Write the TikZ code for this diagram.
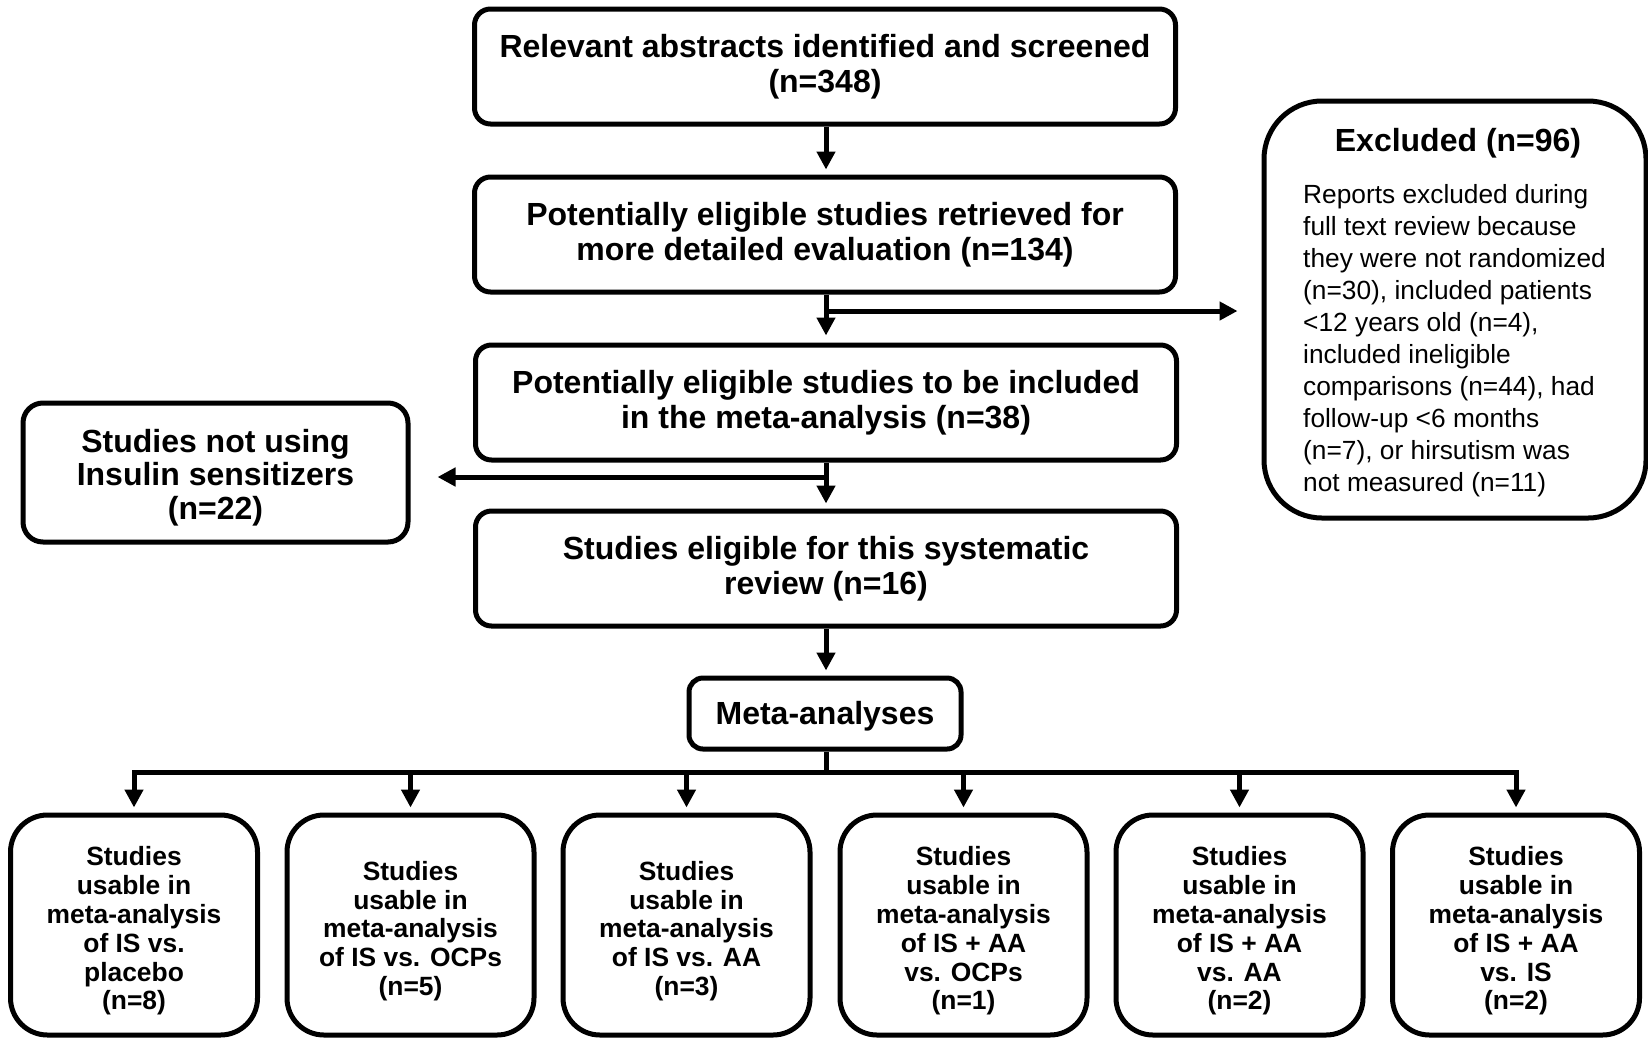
\documentclass[tikz,border=0pt]{standalone}
\usepackage{fontspec}
\setmainfont{Liberation Sans}
\usetikzlibrary{arrows.meta,calc}
\begin{document}
\begin{tikzpicture}[x=1pt,y=-1pt,
  boxline/.style={draw=black, line width=5pt, fill=white},
  mainbox/.style={boxline, rounded corners=16pt, minimum width=701pt, minimum height=115pt, align=center, font=\bfseries\fontsize{32}{35.5}\selectfont, inner sep=0pt},
  sidebox/.style={boxline, rounded corners=20pt, minimum width=385pt, minimum height=139pt, inner sep=0pt},
  sidetext/.style={align=center, font=\bfseries\fontsize{32}{33.6}\selectfont, inner sep=0pt},
  metabox/.style={boxline, rounded corners=14pt, minimum width=272pt, minimum height=71pt, inner sep=0pt},
  metatext/.style={font=\bfseries\fontsize{32}{35.5}\selectfont, inner sep=0pt},
  subbox/.style={boxline, rounded corners=37pt, minimum width=247pt, minimum height=220pt, inner sep=0pt},
  subtext/.style={align=center, font=\bfseries\fontsize{26.4}{28.8}\selectfont, inner sep=0pt},
  exclbox/.style={boxline, rounded corners=58pt, minimum width=382pt, minimum height=417pt, inner sep=0pt},
  conn/.style={line width=5pt, draw=black},
  arr/.style={conn, -{Triangle[length=18pt,width=18pt]}}
]
\useasboundingbox (0,0) rectangle (1648,1037);

\node[mainbox] (b1) at (825,66.5) {Relevant abstracts identified and screened\\(n=348)};
\node[mainbox] (b2) at (825,234.5) {Potentially eligible studies retrieved for\\more detailed evaluation (n=134)};
\node[mainbox] (b3) at (826,402.5) {Potentially eligible studies to be included\\in the meta-analysis (n=38)};
\node[mainbox] (b4) at (826,568.5) {Studies eligible for this systematic\\review (n=16)};

\node[metabox] (meta) at (825,713.5) {};
\node[metatext] (metat) at (825,716.5) {Meta-analyses};

\node[sidebox] (side) at (215.5,472.5) {};
\node[sidetext] (sidet) at (215.5,477.5) {Studies not using\\Insulin sensitizers\\(n=22)};

\node[exclbox] (excl) at (1455,309.5) {};
\node[font=\bfseries\fontsize{32}{35.5}\selectfont, inner sep=0pt] (excltitle) at (1458,143) {Excluded (n=96)};
\node[anchor=north west, align=left, inner sep=0pt, font=\fontsize{26.3}{32}\selectfont] (excltext) at (1303,184)
 {Reports excluded during\\full text review because\\they were not randomized\\(n=30), included patients\\<12 years old (n=4),\\included ineligible\\comparisons (n=44), had\\follow-up <6 months\\(n=7), or hirsutism was\\not measured (n=11)};

\node[subbox] (c1) at (134,925) {};
\node[subbox] (c2) at (410.5,925) {};
\node[subbox] (c3) at (686.5,925) {};
\node[subbox] (c4) at (963.5,925) {};
\node[subbox] (c5) at (1239.5,925) {};
\node[subbox] (c6) at (1516,925) {};
\node[subtext] (t1) at (134,931) {Studies\\usable in\\meta-analysis\\of IS vs.\\placebo\\(n=8)};
\node[subtext] (t2) at (410.5,931) {Studies\\usable in\\meta-analysis\\of IS vs. OCPs\\(n=5)};
\node[subtext] (t3) at (686.5,931) {Studies\\usable in\\meta-analysis\\of IS vs. AA\\(n=3)};
\node[subtext] (t4) at (963.5,931) {Studies\\usable in\\meta-analysis\\of IS + AA\\vs. OCPs\\(n=1)};
\node[subtext] (t5) at (1239.5,931) {Studies\\usable in\\meta-analysis\\of IS + AA\\vs. AA\\(n=2)};
\node[subtext] (t6) at (1516,931) {Studies\\usable in\\meta-analysis\\of IS + AA\\vs. IS\\(n=2)};

% vertical chain
\draw[arr, shorten >=5pt] (b1.south -| 826,0) -- (b2.north -| 826,0);
\draw[arr, shorten >=7pt] (b2.south -| 826,0) -- (b3.north -| 826,0);
\draw[arr, shorten >=5pt] (b3.south -| 826,0) -- (b4.north -| 826,0);
\draw[arr, shorten >=5pt] (b4.south -| 826,0) -- (meta.north -| 826,0);

% side branches
\coordinate (j1) at (826,311);
\draw[arr, shorten >=24pt] (j1) -- (j1 -| excl.west);
\coordinate (j2) at (826,477);
\draw[arr, shorten >=27pt] (j2) -- (j2 -| side.east);

% distribution bar
\coordinate (bar) at (826,772);
\draw[conn] (meta.south -| bar) -- (bar);
\draw[conn, line cap=rect] (c1.north |- bar) -- (c6.north |- bar);
\foreach \c in {c1,c2,c3,c4,c5,c6} {
  \draw[arr, shorten >=5pt] (\c.north |- bar) -- (\c.north);
}
\end{tikzpicture}
\end{document}
